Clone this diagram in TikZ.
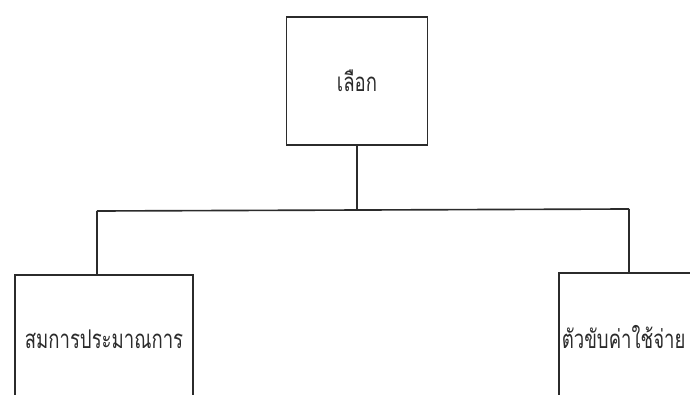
\documentclass[tikz,border=0pt]{standalone}
\usepackage{fontspec}
\usepackage{tikz}
\usetikzlibrary{positioning, calc}
\newfontfamily\thaifont[Script=Thai,FakeStretch=0.72]{Loma}
\definecolor{Ink}{HTML}{2B2B2B}

\begin{document}
\begin{tikzpicture}[
      x=0.03cm, y=-0.03cm,
      font=\thaifont\fontsize{22}{26}\selectfont,
      box/.style={
        draw=Ink, line width=1.4pt, fill=white, text=Ink,
        minimum width=178*0.03cm, minimum height=128*0.03cm,
        inner sep=2pt, align=center
      },
      link/.style={line width=1.4pt, Ink}
    ]
      \clip (0,0) rectangle (690,395);
      \node[box, minimum width=141*0.03cm] (choose) at (357,81) {เลือก};
      \node[box] (equation) at (104,339) {สมการประมาณการ};
      \node[box, anchor=west, align=left, text width=172*0.03cm] (driver) at (558,337) {ตัวขับค่าใช้จ่าย};
      \coordinate (bus) at (357,210);
      \coordinate (busL) at (97,211);
      \coordinate (busR) at (629,209);
      \draw[link] (choose.south) -- (bus);
      \draw[link] (busL) -- (busR);
      \draw[link] (busL) -- (busL |- equation.north);
      \draw[link] (busR) -- (busR |- driver.north);
    \end{tikzpicture}
\end{document}
